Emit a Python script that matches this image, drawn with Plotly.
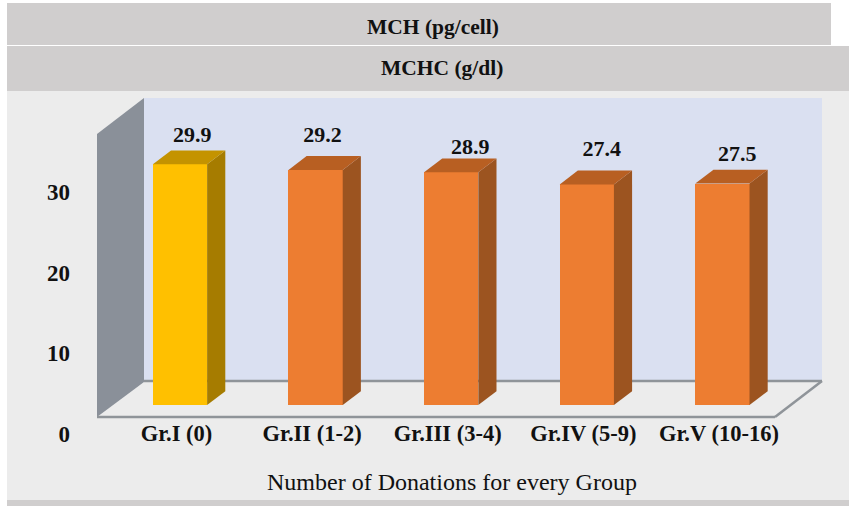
import plotly.graph_objects as go

# Mean corpuscular haemoglobin concentration by donation group
categories = ["Gr.I (0)", "Gr.II (1-2)", "Gr.III (3-4)", "Gr.IV (5-9)", "Gr.V (10-16)"]
mchc_values = [29.9, 29.2, 28.9, 27.4, 27.5]
y_ticks = [0, 10, 20, 30]
x_title = "Number of Donations for every Group"

# Per-bar placement of the value text relative to the front top edge, in axis units
label_lift = [3.4, 4.15, 2.95, 4.25, 3.55]
label_shift = [0.09, 0.05, 0.14, 0.11, 0.11]

WIDTH, HEIGHT = 849, 506
BAR_HALF = 0.2
DEPTH_X = 0.134
DEPTH_Y = 1.72

FRONT = ["#ffc000", "#ed7d31", "#ed7d31", "#ed7d31", "#ed7d31"]
SIDE = ["#a67c00", "#9c5420", "#9c5420", "#9c5420", "#9c5420"]
TOP = ["#c49300", "#b85f22", "#b85f22", "#b85f22", "#b85f22"]
SERIF = "Liberation Serif, Times New Roman, serif"
INK = "#111111"


def px(x):
    return x / WIDTH


def py(y):
    return 1 - y / HEIGHT


def panel(x0, y0, x1, y1, color):
    return dict(type="rect", xref="paper", yref="paper", x0=px(x0), x1=px(x1),
                y0=py(y1), y1=py(y0), fillcolor=color, line_width=0, layer="below")


def poly(points, color, line=None, width=0):
    path = "M " + " L ".join(f"{px(a):.5f},{py(b):.5f}" for a, b in points) + " Z"
    return dict(type="path", xref="paper", yref="paper", path=path, fillcolor=color,
                line=dict(color=line or color, width=width), layer="below")


def seg(x0, y0, x1, y1, color="#8f9499", width=2.5):
    return dict(type="line", xref="paper", yref="paper", x0=px(x0), x1=px(x1),
                y0=py(y0), y1=py(y1), line=dict(color=color, width=width), layer="below")


fig = go.Figure()

# Front faces
fig.add_trace(go.Bar(x=list(range(len(categories))), y=mchc_values, width=2 * BAR_HALF,
                     marker=dict(color=FRONT, line_width=0), hoverinfo="skip", showlegend=False))

# Side and top faces extruded from each value
for i, v in enumerate(mchc_values):
    l, r = i - BAR_HALF, i + BAR_HALF
    fig.add_trace(go.Scatter(
        x=[r, r + DEPTH_X, r + DEPTH_X, r, r], y=[0, DEPTH_Y, v + DEPTH_Y, v, 0],
        mode="lines", fill="toself", fillcolor=SIDE[i], line=dict(width=0),
        hoverinfo="skip", showlegend=False))
    fig.add_trace(go.Scatter(
        x=[l, r, r + DEPTH_X, l + DEPTH_X, l], y=[v, v, v + DEPTH_Y, v + DEPTH_Y, v],
        mode="lines", fill="toself", fillcolor=TOP[i], line=dict(width=0),
        hoverinfo="skip", showlegend=False))

# Value labels
fig.add_trace(go.Scatter(
    x=[i + s for i, s in enumerate(label_shift)],
    y=[v + d for v, d in zip(mchc_values, label_lift)],
    mode="text", text=[f"{v:.1f}" for v in mchc_values],
    textfont=dict(family=SERIF, size=22, color=INK),
    texttemplate="<b>%{text}</b>", hoverinfo="skip", showlegend=False))

# Carries the printed scale, which sits lower than the bar baseline
fig.add_trace(go.Scatter(x=[0, 0], y=[y_ticks[0], y_ticks[-1]], yaxis="y2", mode="markers",
                         marker=dict(opacity=0), hoverinfo="skip", showlegend=False))

shapes = [
    panel(0, 0, WIDTH, HEIGHT, "#ffffff"),
    panel(7, 91, WIDTH, 500, "#ececec"),
    panel(7, 500, WIDTH, HEIGHT, "#d0cece"),
    panel(7, 3, 831, 45, "#d0cece"),
    panel(7, 46, WIDTH, 91, "#d0cece"),
    panel(144, 98, 822, 381, "#dae0f1"),
    poly([(97, 134), (144, 98), (144, 382), (97, 417)], "#8a9099"),
    seg(144, 381, 822, 381),
    seg(97, 417, 775, 417),
    seg(775, 417, 822, 381),
]

note = dict(xref="paper", yref="paper", showarrow=False, xanchor="center", yanchor="middle")
header_font = dict(family=SERIF, size=21.5, color=INK)

fig.update_layout(
    width=WIDTH, height=HEIGHT, autosize=False,
    margin=dict(l=0, r=0, t=0, b=0, pad=0),
    paper_bgcolor="#ffffff", plot_bgcolor="rgba(0,0,0,0)",
    showlegend=False, shapes=shapes, bargap=0,
    annotations=[
        dict(text="<b>MCH (pg/cell)</b>", x=px(433.5), y=py(27), font=header_font, **note),
        dict(text="<b>MCHC (g/dl)</b>", x=px(441.5), y=py(68), font=header_font, **note),
        dict(text=x_title, x=px(452), y=py(482),
             font=dict(family=SERIF, size=24, color=INK), **note),
    ],
    xaxis=dict(
        range=[-1.3274, 4.9336], domain=[0, 1], anchor="free", position=py(417),
        tickmode="array", tickvals=[i - 0.026 for i in range(len(categories))],
        ticktext=[f"<b>{c}</b>" for c in categories], ticks="", showgrid=False,
        zeroline=False, showline=False, tickangle=0,
        tickfont=dict(family=SERIF, size=22.5, color=INK),
    ),
    yaxis=dict(range=[-12.55, 50.31], domain=[0, 1], visible=False, fixedrange=True),
    yaxis2=dict(
        range=[-8.98, 53.88], overlaying="y", anchor="free", position=px(70), side="left",
        tickmode="array", tickvals=y_ticks, ticktext=[f"<b>{t}</b>" for t in y_ticks],
        ticks="", showgrid=False, zeroline=False, showline=False,
        tickfont=dict(family=SERIF, size=23, color=INK),
    ),
)

fig.write_html("out.html", config=dict(displayModeBar=False))
